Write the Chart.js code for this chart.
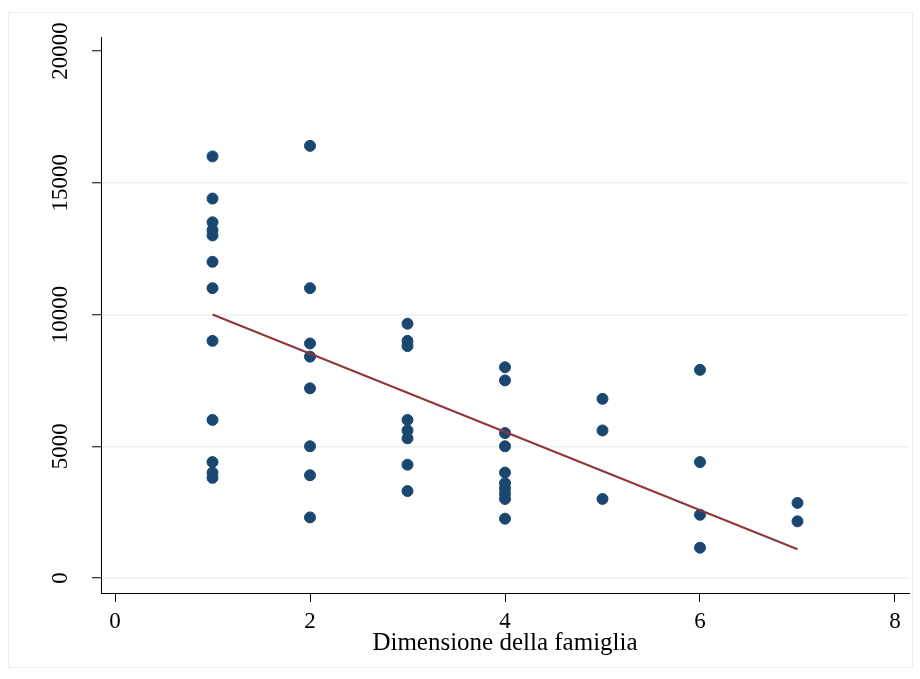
<!DOCTYPE html>
<html>
<head>
<meta charset="utf-8">
<script src="https://cdn.jsdelivr.net/npm/chart.js@4"></script>
<style>
  html, body { margin: 0; padding: 0; background: #fff; }
  #wrap { position: relative; width: 920px; height: 679px; }
  #frame { position: absolute; left: 8px; top: 12px; width: 903px; height: 654px; border: 1px solid #eeeeee; pointer-events: none; }
</style>
</head>
<body>
<div id="wrap">
  <div id="frame"></div>
  <canvas id="chart" width="920" height="679"></canvas>
</div>
<script>
// family size (x) and income (y) for each household
const dimensione = [
  1, 1, 1, 1, 1, 1, 1, 1, 1, 1, 1, 1,
  2, 2, 2, 2, 2, 2, 2, 2,
  3, 3, 3, 3, 3, 3, 3, 3,
  4, 4, 4, 4, 4, 4, 4, 4, 4, 4,
  5, 5, 5,
  6, 6, 6, 6,
  7, 7
];
const reddito = [
  16000, 14400, 13500, 13200, 13000, 12000, 11000, 9000, 6000, 4400, 4000, 3800,
  16400, 11000, 8900, 8400, 7200, 5000, 3900, 2300,
  9650, 9000, 8800, 6000, 5600, 5300, 4300, 3300,
  8000, 7500, 5500, 5000, 4000, 3600, 3400, 3200, 3000, 2250,
  6800, 5600, 3000,
  7900, 4400, 2400, 1150,
  2850, 2150
];
// fitted values of the linear regression
const fitX = [1, 7];
const fitY = [10000, 1090];

const xTicks = [0, 2, 4, 6, 8];
const yTicks = [0, 5000, 10000, 15000, 20000];

const FONT = "'Liberation Serif', 'Times New Roman', serif";

const points = dimensione.map((x, i) => ({ x, y: reddito[i] }));
const fitted = fitX.map((x, i) => ({ x, y: fitY[i] }));

new Chart(document.getElementById('chart'), {
  type: 'scatter',
  data: {
    datasets: [
      {
        label: 'Fitted values',
        data: fitted,
        showLine: true,
        borderColor: '#90353b',
        borderWidth: 2,
        pointRadius: 0,
        fill: false
      },
      {
        label: 'Reddito',
        data: points,
        backgroundColor: '#1a476f',
        borderColor: '#1a476f',
        borderWidth: 1,
        pointRadius: 5.5
      }
    ]
  },
  options: {
    responsive: false,
    animation: false,
    layout: { padding: { top: 37, right: 11, left: 0, bottom: 0 } },
    plugins: {
      legend: { display: false },
      tooltip: { enabled: false }
    },
    scales: {
      x: {
        type: 'linear',
        min: -0.1436,
        max: 8.1436,
        afterFit: s => { s.height = 86; },
        afterBuildTicks: s => { s.ticks = xTicks.map(v => ({ value: v })); },
        border: { color: '#000', width: 1 },
        grid: { drawOnChartArea: false, tickLength: 9, tickColor: '#000', tickWidth: 1 },
        ticks: { color: '#000', padding: 6, font: { family: FONT, size: 23 } },
        title: {
          display: true,
          text: 'Dimensione della famiglia',
          color: '#000',
          font: { family: FONT, size: 25 },
          padding: { top: 0, bottom: 21 }
        }
      },
      y: {
        type: 'linear',
        min: -569,
        max: 20531,
        afterFit: s => { s.width = 101; },
        afterBuildTicks: s => { s.ticks = yTicks.map(v => ({ value: v })); },
        border: { color: '#000', width: 1 },
        grid: {
          color: ctx => (ctx.tick && ctx.tick.value === 20000) ? 'rgba(0,0,0,0)' : '#eaf2f3',
          lineWidth: 1.5,
          tickLength: 9,
          tickColor: '#000',
          tickWidth: 1
        },
        ticks: {
          color: '#000',
          minRotation: 90,
          maxRotation: 90,
          crossAlign: 'center',
          padding: 2,
          font: { family: FONT, size: 23 },
          callback: v => String(v)
        }
      }
    }
  }
});
</script>
</body>
</html>
